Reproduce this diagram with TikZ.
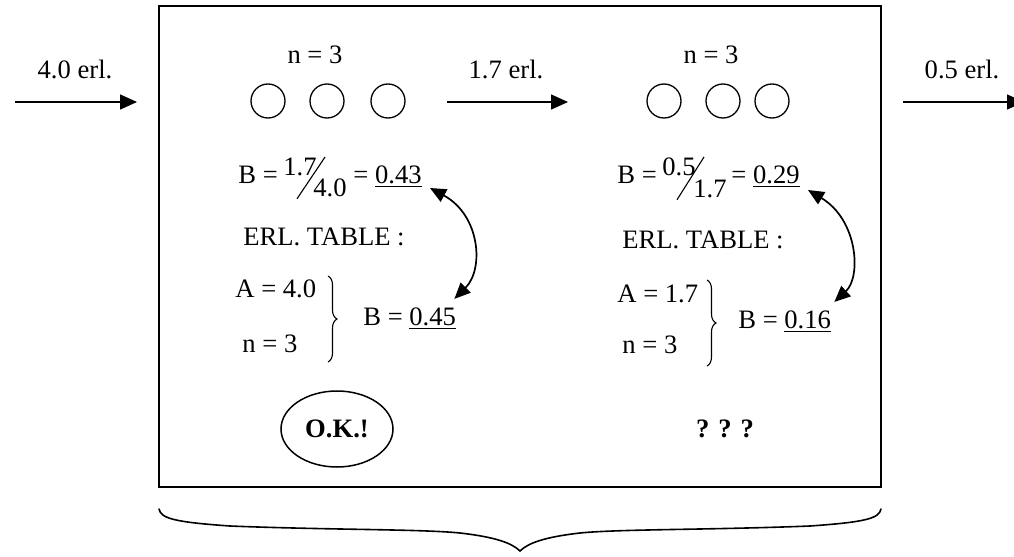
\documentclass[tikz,border=0pt]{standalone}
\usepackage{fontspec}
\setmainfont{Liberation Serif}
\usetikzlibrary{shapes.geometric,arrows.meta,decorations.pathreplacing,calc}

\begin{document}
\begin{tikzpicture}[x=0.5pt,y=-0.5pt,
  txt/.style={inner sep=0pt, font=\fontsize{13.3}{16}\selectfont},
  frame/.style={draw, line width=1.1pt, inner sep=0pt},
  srv/.style={draw, circle, line width=0.65pt, minimum size=17pt, inner sep=0pt},
  flow/.style={line width=0.75pt, -{Triangle[length=8.5pt,width=7.5pt]}},
  swap/.style={line width=0.85pt, {Triangle[length=8pt,width=7pt]}-{Triangle[length=8pt,width=7pt]}},
  slash/.style={line width=0.55pt},
  grp/.style={line width=0.55pt, decorate, decoration={brace, amplitude=4.5pt}},
  okmark/.style={draw, ellipse, line width=0.75pt, minimum width=56pt, minimum height=38pt, inner sep=0pt},
  span/.style={line width=0.8pt, line cap=round}]

\useasboundingbox (0,0) rectangle (1014,557);
\clip (0,0) rectangle (1014,557);

% the two-stage system
\node[frame, minimum width=361pt, minimum height=240.5pt] (stage) at (520,246.5) {};

% offered traffic arrows
\coordinate (inS) at (15,102);   \coordinate (inE) at (137,102);
\coordinate (midS) at (447,102); \coordinate (midE) at (568,102);
\coordinate (outS) at (903,102); \coordinate (outE) at (1024,102);
\draw[flow] (inS) -- (inE);
\draw[flow] (midS) -- (midE);
\draw[flow] (outS) -- (outE);
\node[txt, anchor=base] (inLab)  at (75,78)  {4.0 erl.};
\node[txt, anchor=base] (midLab) at (506,78) {1.7 erl.};
\node[txt, anchor=base] (outLab) at (962,78) {0.5 erl.};

% servers of each group
\node[txt, anchor=base] (nL) at (315,63) {n = 3};
\node[txt, anchor=base] (nR) at (711,63) {n = 3};
\foreach \x/\k in {268/a,327/b,388/c} \node[srv] (L\k) at (\x,101) {};
\foreach \x/\k in {664/a,723/b,772/c} \node[srv] (R\k) at (\x,101) {};

% first group: blocking from the overflow
\node[txt, anchor=base west] (bL)   at (238,183) {B =};
\node[txt, anchor=base west] (numL) at (283,175) {1.7};
\node[txt, anchor=base west] (denL) at (313,196) {4.0};
\node[txt, anchor=base west] (resL) at (353,183) {= \underline{0.43}};
\draw[slash] ($(numL.north east)+(8,0)$) -- ($(denL.south west)+(-16,2)$);
\node[txt, anchor=base west] (tabL) at (243,245) {ERL. TABLE :};
\node[txt, anchor=base west] (aL)   at (235,297) {A = 4.0};
\node[txt, anchor=base west] (sL)   at (242,352) {n = 3};
\coordinate (brLt) at (328,276); \coordinate (brLb) at (328,362);
\draw[grp] (brLt) -- (brLb);
\node[txt, anchor=base west] (eL)   at (363,325) {B = \underline{0.45}};
\draw[swap] ($(resL.base east)+(8,5)$) .. controls +(50,27) and +(30,-30) .. ($(eL.north east)+(-2,-8)$);
\node[okmark, txt] (ok) at (337,429) {\textbf{O.K.!}};

% second group
\node[txt, anchor=base west] (bR)   at (617,183) {B =};
\node[txt, anchor=base west] (numR) at (662,175) {0.5};
\node[txt, anchor=base west] (denR) at (693,197) {1.7};
\node[txt, anchor=base west] (resR) at (731,183) {= \underline{0.29}};
\draw[slash] ($(numR.north east)+(8,0)$) -- ($(denR.south west)+(-16,2)$);
\node[txt, anchor=base west] (tabR) at (622,248) {ERL. TABLE :};
\node[txt, anchor=base west] (aR)   at (617,302) {A = 1.7};
\node[txt, anchor=base west] (sR)   at (622,353) {n = 3};
\coordinate (brRt) at (707,280); \coordinate (brRb) at (707,366);
\draw[grp] (brRt) -- (brRb);
\node[txt, anchor=base west] (eR)   at (738,328) {B = \underline{0.16}};
\draw[swap] ($(resR.base east)+(8,7)$) .. controls +(50,30) and +(27,-25) .. ($(eR.north east)+(3,-8)$);
\node[txt, anchor=base] (qq) at (725,437) {\textbf{? ? ?}};

% brace under the whole system
\coordinate (spL) at (159,509);
\coordinate (spM) at (520,551);
\coordinate (spR) at (881,509);
\draw[span] (spL) .. controls (161,518) and (172,522) .. (230,526)
  .. controls (330,530) and (420,529) .. (460,533)
  .. controls (495,537) and (512,543) .. (spM)
  .. controls (528,543) and (545,537) .. (580,533)
  .. controls (620,529) and (710,530) .. (810,526)
  .. controls (868,522) and (879,518) .. (spR);
\end{tikzpicture}
\end{document}
